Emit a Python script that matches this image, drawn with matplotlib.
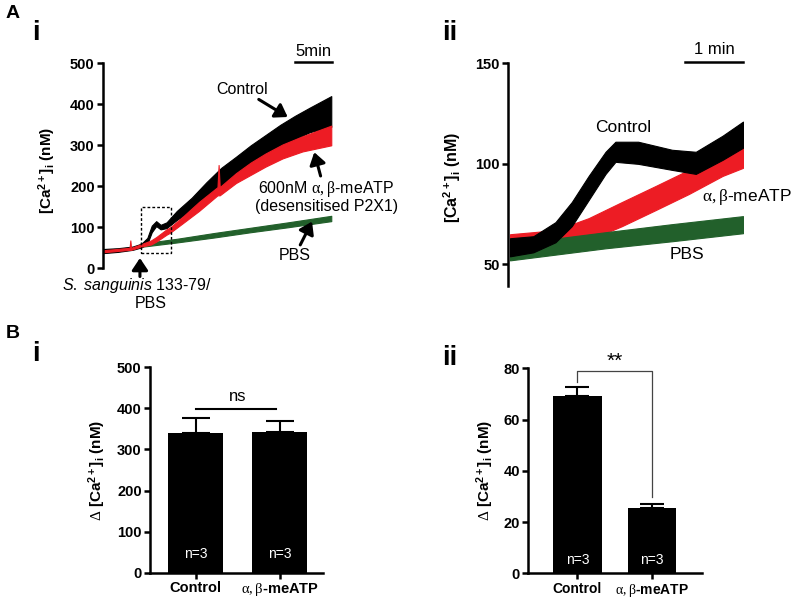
import numpy as np
import matplotlib.pyplot as plt
from matplotlib.patches import Rectangle

plt.rcParams['font.family'] = ['Liberation Sans', 'DejaVu Sans']
plt.rcParams['mathtext.fontset'] = 'custom'
plt.rcParams['mathtext.rm'] = 'Liberation Serif'
plt.rcParams['mathtext.bf'] = 'Liberation Sans:bold'
plt.rcParams['mathtext.it'] = 'Liberation Sans:italic'

# ---- data ----
# A(i): full traces, time in min, [Ca2+]i in nM (lower / upper edge of noisy trace)
ctl_t = [0, 2, 4, 5.2, 6.0, 6.6, 7.2, 7.8, 8.6, 10, 12, 14, 16, 18, 20, 22, 24, 26, 28, 30.9]
ctl_lo = [37, 40, 45, 51, 60, 88, 103, 95, 98, 118, 142, 170, 198, 225, 250, 272, 295, 315, 332, 345]
ctl_hi = [47, 49, 53, 60, 74, 104, 115, 106, 112, 140, 172, 210, 245, 272, 300, 325, 350, 372, 392, 420]

atp_t = [0, 3.6, 3.7, 3.8, 5.2, 6.5, 7.2, 8.6, 9.1, 10.8, 13, 15.5, 15.65, 15.8, 18, 20, 22, 24.3, 27, 30.9]
atp_lo = [39, 45, 45, 45, 53, 58, 65, 82, 87, 110, 140, 178, 178, 178, 208, 228, 248, 268, 285, 300]
atp_hi = [44, 50, 68, 50, 59, 68, 76, 95, 100, 126, 162, 198, 252, 198, 232, 258, 280, 302, 322, 348]

pbs_t = [5.0, 10, 15, 20, 25, 30.9]
pbs_lo = [52, 63, 75, 88, 100, 115]
pbs_hi = [60, 72, 86, 99, 112, 128]

# A(ii): zoom of the first 4 min after stimulation
z_ctl_t = [0, 0.4, 0.78, 1.06, 1.35, 1.64, 1.81, 2.2, 2.78, 3.19, 3.65, 4.0]
z_ctl_lo = [54, 56, 61, 69, 82, 95, 101, 100, 97, 95, 102, 108]
z_ctl_hi = [63, 64, 71, 81, 94, 106, 111, 111, 107, 106, 114, 121]

z_atp_t = [0, 0.78, 1.35, 1.92, 2.5, 3.07, 3.65, 4.0]
z_atp_lo = [55, 57, 62, 69, 77, 85, 94, 98]
z_atp_hi = [65, 67, 73, 81, 89, 97, 106, 110]

z_pbs_t = [0, 1.64, 2.78, 4.0]
z_pbs_lo = [52, 58, 61.5, 65.5]
z_pbs_hi = [60, 66, 70, 74]

# B: summary bars
groups = ['Control', r'$\mathrm{\alpha,\beta}$-meATP']
bi_mean = [341, 343]
bi_sem = [35, 27]
bii_mean = [69.3, 25.6]
bii_sem = [3.3, 1.3]

BLACK = '#000000'
RED = '#ed1c24'
GREEN = '#22602b'

W, H = 800, 602


def rect(l, t, r, b):
    return [l / W, 1 - b / H, (r - l) / W, (b - t) / H]


def fpos(x, y):
    return x / W, 1 - y / H


def clean(ax, bottom=False):
    ax.spines['top'].set_visible(False)
    ax.spines['right'].set_visible(False)
    ax.spines['left'].set_linewidth(1.8)
    if bottom:
        ax.spines['bottom'].set_linewidth(1.8)
    else:
        ax.spines['bottom'].set_visible(False)
        ax.set_xticks([])
    ax.tick_params(width=1.8, length=4, labelsize=10.5, pad=2)


def band(ax, t, lo, hi, c):
    ax.fill_between(t, lo, hi, color=c, lw=0.8, edgecolor=c)


fig = plt.figure(figsize=(W / 100, H / 100), dpi=100)

ylab = r'[Ca$^{\mathbf{2+}}$]$_{\mathbf{i}}$ (nM)'
dlab = r'$\Delta$ [Ca$^{\mathbf{2+}}$]$_{\mathbf{i}}$ (nM)'
arrow = dict(arrowstyle='-|>,head_length=0.45,head_width=0.3', lw=2.2,
             color='k', mutation_scale=16, shrinkA=0, shrinkB=0)

# ---- A(i) ----
ax1 = fig.add_axes(rect(103, 63.3, 332, 268.3))
band(ax1, pbs_t, pbs_lo, pbs_hi, GREEN)
band(ax1, ctl_t, ctl_lo, ctl_hi, BLACK)
band(ax1, atp_t, atp_lo, atp_hi, RED)
ax1.set_xlim(0, 31)
ax1.set_ylim(0, 500)
clean(ax1)
ax1.set_yticks([0, 100, 200, 300, 400, 500],
               labels=['0', '100', '200', '300', '400', '500'], fontweight='bold')
ax1.add_patch(Rectangle((5.1, 38), 4.07, 112, fill=False, ls=(0, (2, 1.5)), lw=1, ec='k'))
ax1.plot([26, 31], [504, 504], color='k', lw=1.8, clip_on=False)
ax1.text(28.5, 510, '5min', ha='center', va='bottom', fontsize=12)
ax1.annotate('Control', xy=(25.0, 369), xytext=(18.8, 437), ha='center', va='center',
             fontsize=11.5, arrowprops=arrow, annotation_clip=False)
ax1.annotate('', xy=(23.0, 408), xytext=(23.0, 408))
ax1.annotate('600nM $\\mathrm{\\alpha,\\beta}$-meATP\n(desensitised P2X1)', xy=(28.6, 283),
             xytext=(30.2, 175), ha='center', va='center', fontsize=11.5,
             linespacing=1.05, arrowprops=arrow, annotation_clip=False)
ax1.annotate('PBS', xy=(28.3, 114), xytext=(26.0, 32), ha='center', va='center',
             fontsize=11.5, arrowprops=arrow, annotation_clip=False)
ax1.annotate('', xy=(5.0, 25), xytext=(5.0, -20), arrowprops=arrow, annotation_clip=False)
ax1.text(4.6, -41, r'$\mathit{S.\ sanguinis}$ 133-79/', ha='center', va='center',
         fontsize=11.5, clip_on=False)
ax1.text(6.4, -85, 'PBS', ha='center', va='center', fontsize=11.5, clip_on=False)

# ---- A(ii) ----
ax2 = fig.add_axes(rect(508, 63.3, 743, 285.5))
band(ax2, z_atp_t, z_atp_lo, z_atp_hi, RED)
band(ax2, z_pbs_t, z_pbs_lo, z_pbs_hi, GREEN)
band(ax2, z_ctl_t, z_ctl_lo, z_ctl_hi, BLACK)
ax2.set_xlim(-0.035, 4.0)
ax2.set_ylim(39.5, 150)
clean(ax2)
ax2.set_yticks([50, 100, 150], labels=['50', '100', '150'], fontweight='bold')
ax2.plot([3, 4], [150.6, 150.6], color='k', lw=1.8, clip_on=False)
ax2.text(3.5, 153, '1 min', ha='center', va='bottom', fontsize=12)
ax2.text(1.94, 117.9, 'Control', ha='center', va='center', fontsize=12.5)
ax2.text(4.06, 83.7, r'$\mathrm{\alpha,\beta}$-meATP', ha='center', va='center',
         fontsize=12.5, clip_on=False)
ax2.text(3.04, 55, 'PBS', ha='center', va='center', fontsize=12.5)

# ---- B(i) ----
x = np.arange(len(groups))
ax3 = fig.add_axes(rect(150, 367.3, 322.7, 572.7))
ax3.bar(x, bi_mean, width=0.655, color=BLACK, zorder=2)
ax3.errorbar(x, bi_mean, yerr=[[0, 0], bi_sem], fmt='none', ecolor='k',
             elinewidth=1.5, capsize=10, capthick=1.5, zorder=1)
ax3.set_xlim(-0.542, 1.514)
ax3.set_ylim(0, 500)
clean(ax3, bottom=True)
ax3.set_yticks([0, 100, 200, 300, 400, 500],
               labels=['0', '100', '200', '300', '400', '500'], fontweight='bold')
ax3.set_xticks(x, labels=groups, fontweight='bold', fontsize=10.5)
ax3.plot([0.01, 0.96], [398, 398], color='k', lw=1.5)
ax3.text(0.5, 410, 'ns', ha='center', va='bottom', fontsize=12)
for xi in x:
    ax3.text(xi, 45, 'n=3', color='white', ha='center', va='center', fontsize=10)

# ---- B(ii) ----
ax4 = fig.add_axes(rect(528.3, 368.3, 701.7, 573.3))
ax4.bar(x, bii_mean, width=0.65, color=BLACK, zorder=2)
ax4.errorbar(x, bii_mean, yerr=[[0, 0], bii_sem], fmt='none', ecolor='k',
             elinewidth=1.5, capsize=8.5, capthick=1.5, zorder=1)
ax4.set_xlim(-0.662, 1.672)
ax4.set_ylim(0, 80)
clean(ax4, bottom=True)
ax4.set_yticks([0, 20, 40, 60, 80], labels=['0', '20', '40', '60', '80'], fontweight='bold')
ax4.set_xticks(x, labels=groups, fontweight='bold', fontsize=10)
ax4.plot([0, 0, 1, 1], [74.8, 79, 79, 29.9], color='#444444', lw=0.9, clip_on=False)
ax4.text(0.5, 82.6, '**', ha='center', va='center', fontsize=15)
for xi in x:
    ax4.text(xi, 5.2, 'n=3', color='white', ha='center', va='center', fontsize=10)

# ---- axis titles and panel letters ----
fig.text(*fpos(47, 170), ylab, rotation=90, ha='center', va='center', fontsize=11, fontweight='bold')
fig.text(*fpos(452, 177), ylab, rotation=90, ha='center', va='center', fontsize=11.5, fontweight='bold')
fig.text(*fpos(97, 470), dlab, rotation=90, ha='center', va='center', fontsize=11, fontweight='bold')
fig.text(*fpos(485, 470), dlab, rotation=90, ha='center', va='center', fontsize=11, fontweight='bold')

fig.text(*fpos(12.5, 14), 'A', ha='center', va='center', fontsize=14, fontweight='bold')
fig.text(*fpos(12.5, 333), 'B', ha='center', va='center', fontsize=14, fontweight='bold')
fig.text(*fpos(36, 33), 'i', ha='center', va='center', fontsize=20, fontweight='bold')
fig.text(*fpos(450, 33), 'ii', ha='center', va='center', fontsize=20, fontweight='bold')
fig.text(*fpos(36, 354), 'i', ha='center', va='center', fontsize=20, fontweight='bold')
fig.text(*fpos(450, 358), 'ii', ha='center', va='center', fontsize=20, fontweight='bold')

fig.savefig('out.png', dpi=100)
